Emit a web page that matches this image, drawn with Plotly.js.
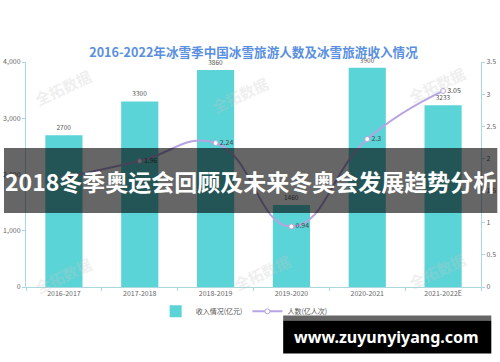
<!DOCTYPE html>
<html>
<head>
<meta charset="utf-8">
<script src="https://cdn.plot.ly/plotly-3.0.1.min.js"></script>
<style>html,body{margin:0;padding:0;background:#fff;}#chart{width:500px;height:362px;}</style>
</head>
<body>
<div id="chart"></div>
<script>
var categories = ["2016-2017", "2017-2018", "2018-2019", "2019-2020", "2020-2021", "2021-2022E"];
var revenue = [2700, 3300, 3860, 1460, 3900, 3233];
var visitors = [1.7, 1.96, 2.24, 0.94, 2.3, 3.05];
var visitorLabels = ["1.7", "1.96", "2.24", "0.94", "2.3", "3.05"];
var leftTicks = [0, 1000, 2000, 3000, 4000];
var leftTickText = ["0", "1,000", "2,000", "3,000", "4,000"];
var rightTicks = [0, 0.5, 1, 1.5, 2, 2.5, 3, 3.5];
var rightTickText = ["0", "0.5", "1", "1.5", "2", "2.5", "3", "3.5"];

var CJK = '"Noto Sans CJK SC", "Noto Sans", sans-serif';
var axisCol = '#a9d8df';

var traces = [
  {
    type: 'bar', name: '收入情况(亿元)', x: categories, y: revenue,
    marker: {color: '#5ad4d6'},
    text: revenue.map(String), textposition: 'outside', cliponaxis: false,
    textfont: {size: 6.5, color: '#555', family: CJK},
    hoverinfo: 'skip'
  },
  {
    type: 'scatter', name: '人数(亿人次)', x: categories, y: visitors, yaxis: 'y2',
    mode: 'lines+markers+text',
    line: {color: '#b7a4e2', width: 2, shape: 'spline', smoothing: 1.3},
    marker: {color: '#ffffff', size: 5, line: {color: '#b7a4e2', width: 1}},
    text: visitorLabels, textposition: 'middle right', cliponaxis: false,
    textfont: {size: 7, color: '#444', family: CJK}
  }
];

function px(x) { return (x - 26) / 454.7; }
function py(y) { return (286.7 - y) / 224.4; }

var wm = [[63, 88], [240, 95], [437, 85], [63, 275], [262, 272], [437, 270]];
var annotations = wm.map(function (p) {
  return {xref: 'paper', yref: 'paper', x: px(p[0]), y: py(p[1]), xanchor: 'center', yanchor: 'middle',
    text: '全拓数据', showarrow: false, textangle: -25,
    font: {size: 15, color: 'rgba(200,200,200,0.3)', family: CJK, weight: 'bold'}};
});
annotations.push({xref: 'paper', yref: 'paper', x: px(250.5), y: py(181), xanchor: 'center', yanchor: 'middle',
  text: '2018冬季奥运会回顾及未来冬奥会发展趋势分析',
  showarrow: false, font: {size: 23, color: '#ffffff', family: CJK, weight: 'bold'}});
annotations.push({xref: 'paper', yref: 'paper', x: px(386), y: py(337), xanchor: 'center', yanchor: 'middle',
  text: 'www.zuyunyiyang.com',
  showarrow: false, font: {size: 16, color: '#ffffff', family: '"Noto Sans", sans-serif', weight: 'bold'}});

var layout = {
  width: 500, height: 362,
  margin: {l: 26, r: 19.3, t: 62.3, b: 75.3},
  paper_bgcolor: '#fff', plot_bgcolor: '#fff',
  showlegend: true,
  title: {text: '2016-2022年冰雪季中国冰雪旅游人数及冰雪旅游收入情况', x: 0.5, xref: 'paper', xanchor: 'center',
    y: 1 - 52.7 / 362, yanchor: 'middle', font: {size: 12.6, color: '#5a8fe0', family: CJK, weight: 'bold'}},
  bargap: 0.51,
  xaxis: {type: 'category', showgrid: false, showline: true, linecolor: axisCol, linewidth: 1,
    ticks: 'outside', tickson: 'boundaries', ticklen: 3, tickcolor: axisCol,
    tickfont: {size: 7, color: '#666', family: CJK}, zeroline: false, fixedrange: true},
  yaxis: {range: [0, 4000], tickvals: leftTicks, ticktext: leftTickText, showgrid: false, showline: true,
    linecolor: axisCol, ticks: 'outside', ticklen: 3, tickcolor: axisCol, zeroline: false,
    tickfont: {size: 7, color: '#666', family: CJK}},
  yaxis2: {range: [0, 3.5], tickvals: rightTicks, ticktext: rightTickText, overlaying: 'y', side: 'right',
    showgrid: false, showline: true, linecolor: axisCol, ticks: 'outside', ticklen: 3, tickcolor: axisCol,
    zeroline: false, tickfont: {size: 7, color: '#666', family: CJK}},
  legend: {orientation: 'h', x: px(244), xanchor: 'center', y: py(311), yanchor: 'middle',
    font: {size: 7, color: '#555', family: CJK}, itemwidth: 30, bgcolor: 'rgba(0,0,0,0)'},
  shapes: [
    {type: 'rect', xref: 'paper', yref: 'paper', x0: px(4), x1: px(497), y0: py(213), y1: py(148),
      fillcolor: 'rgba(0,0,0,0.6)', line: {width: 0}, layer: 'above'},
    {type: 'rect', xref: 'paper', yref: 'paper', x0: px(283), x1: px(491), y0: py(320), y1: py(315),
      fillcolor: '#666666', line: {width: 0}, layer: 'above'},
    {type: 'rect', xref: 'paper', yref: 'paper', x0: px(283), x1: px(491), y0: py(353), y1: py(320),
      fillcolor: '#000000', line: {width: 0}, layer: 'above'}
  ],
  annotations: annotations
};

Plotly.newPlot('chart', traces, layout, {displayModeBar: false, staticPlot: true});
</script>
</body>
</html>
